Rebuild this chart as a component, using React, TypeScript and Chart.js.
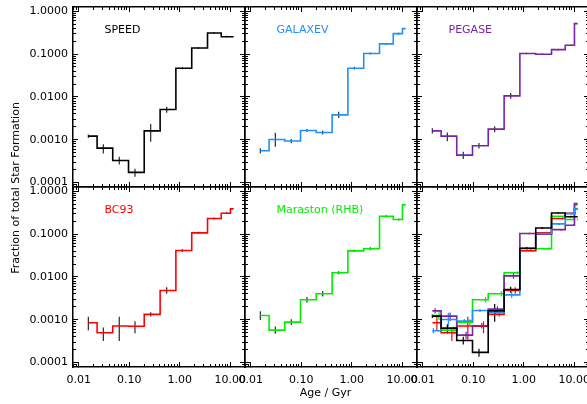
import React, { useEffect, useRef } from 'react';
import { Chart, registerables } from 'chart.js';

Chart.register(...registerables);

// ---------------- data ----------------
const ages = [0.0155, 0.0307, 0.0635, 0.13, 0.266, 0.552, 1.125, 2.33, 4.77, 8.5, 11.7];

const speedValues = [0.00121, 0.000635, 0.000327, 0.000172, 0.00161, 0.00508, 0.0468, 0.139, 0.312, 0.255, 0.255];
const speedLo = [0.0011, 0.000478, 0.000264, 0.000136, 0.00089, 0.00424, 0.044, 0.132, 0.3, 0.245, 0.255];
const speedHi = [0.00133, 0.000787, 0.000398, 0.000209, 0.00231, 0.00585, 0.05, 0.146, 0.325, 0.267, 0.255];

const galaxevValues = [0.00055, 0.00101, 0.00093, 0.00164, 0.00147, 0.0038, 0.0468, 0.103, 0.173, 0.301, 0.394];
const galaxevLo = [0.00048, 0.00068, 0.00083, 0.00151, 0.00132, 0.0032, 0.0434, 0.098, 0.164, 0.285, 0.394];
const galaxevHi = [0.00063, 0.00145, 0.00104, 0.00178, 0.00164, 0.0045, 0.0505, 0.109, 0.182, 0.317, 0.394];

const pegaseValues = [0.00161, 0.00121, 0.000436, 0.00072, 0.00176, 0.01057, 0.103, 0.099, 0.127, 0.161, 0.515];
const pegaseLo = [0.00139, 0.00092, 0.000352, 0.00062, 0.0015, 0.009, 0.099, 0.095, 0.122, 0.155, 0.515];
const pegaseHi = [0.00186, 0.00147, 0.00052, 0.00084, 0.00207, 0.0124, 0.107, 0.103, 0.132, 0.167, 0.515];

const bc93Values = [0.00085, 0.000496, 0.00071, 0.0007, 0.00133, 0.00482, 0.0413, 0.107, 0.231, 0.307, 0.388];
const bc93Lo = [0.00057, 0.000316, 0.000316, 0.00048, 0.00118, 0.00404, 0.0383, 0.102, 0.22, 0.293, 0.388];
const bc93Hi = [0.00117, 0.00066, 0.00117, 0.00092, 0.0015, 0.00575, 0.0445, 0.113, 0.243, 0.322, 0.388];

const marastonValues = [0.001256, 0.00057, 0.000877, 0.00292, 0.00403, 0.01246, 0.0406, 0.0453, 0.261, 0.219, 0.481];
const marastonLo = [0.00098, 0.000467, 0.000755, 0.00252, 0.00347, 0.0115, 0.038, 0.042, 0.247, 0.207, 0.481];
const marastonHi = [0.00158, 0.000695, 0.00102, 0.00338, 0.00468, 0.0135, 0.0433, 0.049, 0.276, 0.231, 0.481];

const xTickValues = [0.01, 0.1, 1, 10];
const xTickLabels = ['0.01', '0.10', '1.00', '10.00'];
const yTickValues = [0.0001, 0.001, 0.01, 0.1, 1];
const yTickLabels = ['0.0001', '0.0010', '0.0100', '0.1000', '1.0000'];

// error-bar shift (multiplicative) used in the combined panel
const combinedShift = [1, 1.047, 1.135, 1.23, 1.35];

// ---------------- config ----------------
const X_MIN = 0.0077;
const X_MAX = 19.6;
const Y_MIN = 7.84e-5;
const Y_MAX = 1.26;
const FONT = '"DejaVu Sans", sans-serif';

const COLS = [73, 245, 417];
const ROWS = [7, 187];
const PW = 172;
const PH = 180;

type Series = { name: string; color: string; values: number[]; lo: number[]; hi: number[] };

const series: Series[] = [
  { name: 'SPEED', color: '#000000', values: speedValues, lo: speedLo, hi: speedHi },
  { name: 'GALAXEV', color: '#1e90ff', values: galaxevValues, lo: galaxevLo, hi: galaxevHi },
  { name: 'PEGASE', color: '#7a22a8', values: pegaseValues, lo: pegaseLo, hi: pegaseHi },
  { name: 'BC93', color: '#ff0000', values: bc93Values, lo: bc93Lo, hi: bc93Hi },
  { name: 'Maraston (RHB)', color: '#00ee00', values: marastonValues, lo: marastonLo, hi: marastonHi },
];

function minorTicks(min: number, max: number) {
  const out: number[] = [];
  for (let e = Math.floor(Math.log10(min)); e <= Math.ceil(Math.log10(max)); e++) {
    for (let m = 2; m <= 9; m++) {
      const v = m * Math.pow(10, e);
      if (v >= min && v <= max) out.push(v);
    }
  }
  return out;
}
const xMinor = minorTicks(X_MIN, X_MAX);
const yMinor = minorTicks(Y_MIN, Y_MAX);

function histPoints(xs: number[], ys: number[]) {
  const pts: { x: number; y: number }[] = [{ x: xs[0], y: ys[0] }];
  for (let i = 1; i < xs.length; i++) pts.push({ x: (xs[i - 1] + xs[i]) / 2, y: ys[i] });
  pts.push({ x: xs[xs.length - 1], y: ys[ys.length - 1] });
  return pts;
}

function errPoints(xs: number[], lo: number[], hi: number[], shift: number) {
  const pts: { x: number; y: number | null }[] = [];
  xs.forEach((x, i) => {
    if (hi[i] > lo[i]) {
      pts.push({ x: x * shift, y: lo[i] }, { x: x * shift, y: hi[i] }, { x: x * shift, y: null });
    }
  });
  return pts;
}

// kind: 'major' | 'minor' tick axes (size 0), or 'labels' axis (text only, given size)
function makeAxis(dir: 'x' | 'y', position: string, kind: 'major' | 'minor' | 'labels', size = 0) {
  const isX = dir === 'x';
  const values = kind === 'minor' ? (isX ? xMinor : yMinor) : isX ? xTickValues : yTickValues;
  const labels = isX ? xTickLabels : yTickLabels;
  const isLabels = kind === 'labels';
  return {
    type: 'logarithmic',
    axis: dir,
    position,
    min: isX ? X_MIN : Y_MIN,
    max: isX ? X_MAX : Y_MAX,
    bounds: 'data',
    grid: {
      display: !isLabels,
      drawOnChartArea: false,
      drawTicks: !isLabels,
      tickLength: kind === 'major' ? -5 : -3,
      tickWidth: 1,
      tickColor: '#000',
      lineWidth: 1,
    },
    border: { display: kind === 'major', color: '#000', width: 1.5 },
    ticks: {
      display: isLabels,
      autoSkip: false,
      maxRotation: 0,
      minRotation: 0,
      maxTicksLimit: 1000,
      padding: isX ? 6.4 : 5,
      color: '#000',
      font: { family: FONT, size: 11 },
      callback: (_v: number, i: number) => (isLabels ? labels[i] : ''),
    },
    afterBuildTicks: (s: any) => {
      s.ticks = values.map((v) => ({ value: v }));
    },
    afterFit: (s: any) => {
      if (isX) s.height = size;
      else s.width = size;
      s.paddingLeft = 0;
      s.paddingRight = 0;
      s.paddingTop = 0;
      s.paddingBottom = 0;
    },
  };
}

type PanelSpec = { col: number; row: number; label?: string; color?: string; items: number[]; combined?: boolean };

const panels: PanelSpec[] = [
  { col: 0, row: 0, label: 'SPEED', color: series[0].color, items: [0] },
  { col: 1, row: 0, label: 'GALAXEV', color: series[1].color, items: [1] },
  { col: 2, row: 0, label: 'PEGASE', color: series[2].color, items: [2] },
  { col: 0, row: 1, label: 'BC93', color: series[3].color, items: [3] },
  { col: 1, row: 1, label: 'Maraston (RHB)', color: series[4].color, items: [4] },
  { col: 2, row: 1, items: [0, 1, 2, 3, 4], combined: true },
];

function Panel({ spec }: { spec: PanelSpec }) {
  const ref = useRef<HTMLCanvasElement>(null);
  const L = COLS[spec.col];
  const T = ROWS[spec.row];
  const hasY = spec.col === 0;
  const hasX = spec.row === 1;
  const PL = hasY ? L : 24;
  const PR = 24;
  const PT = spec.row === 0 ? T : 24;
  const PB = hasX ? 404 - (T + PH) : 24;
  const w = PW + PL + PR;
  const h = PH + PT + PB;

  useEffect(() => {
    if (!ref.current) return;
    const datasets: any[] = [];
    spec.items.forEach((idx) => {
      const s = series[idx];
      datasets.push({
        data: histPoints(ages, s.values),
        borderColor: s.color,
        borderWidth: 1.6,
        stepped: true,
        pointRadius: 0,
        fill: false,
        xAxisID: 'x',
        yAxisID: 'y',
      });
    });
    spec.items.forEach((idx) => {
      const s = series[idx];
      datasets.push({
        data: errPoints(ages, s.lo, s.hi, spec.combined ? combinedShift[idx] : 1),
        borderColor: spec.combined ? s.color : '#2a2a2a',
        borderWidth: 1.2,
        pointRadius: 0,
        spanGaps: false,
        fill: false,
        xAxisID: 'x',
        yAxisID: 'y',
      });
    });

    const labelPlugin = {
      id: 'panelLabel',
      afterDraw(chart: any) {
        if (!spec.label) return;
        const { ctx, chartArea } = chart;
        ctx.save();
        ctx.font = `11px ${FONT}`;
        ctx.fillStyle = spec.color;
        ctx.textBaseline = 'middle';
        ctx.textAlign = 'left';
        ctx.fillText(spec.label, chartArea.left + 31.5, chartArea.top + 23);
        ctx.restore();
      },
    };

    const scales: any = {
      x: makeAxis('x', 'bottom', 'major'),
      xMinor: makeAxis('x', 'bottom', 'minor'),
      xTop: makeAxis('x', 'top', 'major'),
      xTopMinor: makeAxis('x', 'top', 'minor'),
      y: makeAxis('y', 'left', 'major'),
      yMinor: makeAxis('y', 'left', 'minor'),
      yRight: makeAxis('y', 'right', 'major'),
      yRightMinor: makeAxis('y', 'right', 'minor'),
    };
    if (hasX) scales.xLabels = makeAxis('x', 'bottom', 'labels', PB);
    if (hasY) scales.yLabels = makeAxis('y', 'left', 'labels', PL);

    const chart = new Chart(ref.current, {
      type: 'line',
      data: { datasets },
      options: {
        responsive: false,
        animation: false,
        devicePixelRatio: 1,
        layout: {
          padding: { left: hasY ? 0 : PL, right: PR, top: PT, bottom: hasX ? 0 : PB },
        },
        plugins: { legend: { display: false }, tooltip: { enabled: false } },
        events: [],
        scales,
      },
      plugins: [labelPlugin],
    } as any);
    return () => chart.destroy();
  }, []);

  return (
    <canvas
      ref={ref}
      width={w}
      height={h}
      style={{ position: 'absolute', left: L - PL, top: T - PT, width: w, height: h }}
    />
  );
}

export default function App() {
  return (
    <div
      style={{
        position: 'fixed',
        left: 0,
        top: 0,
        width: 587,
        height: 404,
        overflow: 'hidden',
        background: '#fff',
        fontFamily: FONT,
      }}
    >
      {panels.map((p, i) => (
        <Panel key={i} spec={p} />
      ))}
      <div
        style={{
          position: 'absolute',
          left: 15.5 - 150,
          top: 188 - 7,
          width: 300,
          height: 14,
          lineHeight: '14px',
          fontSize: 11,
          textAlign: 'center',
          color: '#000',
          transform: 'rotate(-90deg)',
          whiteSpace: 'nowrap',
        }}
      >
        Fraction of total Star Formation
      </div>
      <div
        style={{
          position: 'absolute',
          left: 325.5 - 100,
          top: 393.3 - 7,
          width: 200,
          height: 14,
          lineHeight: '14px',
          fontSize: 11,
          textAlign: 'center',
          color: '#000',
          whiteSpace: 'nowrap',
        }}
      >
        Age / Gyr
      </div>
    </div>
  );
}
